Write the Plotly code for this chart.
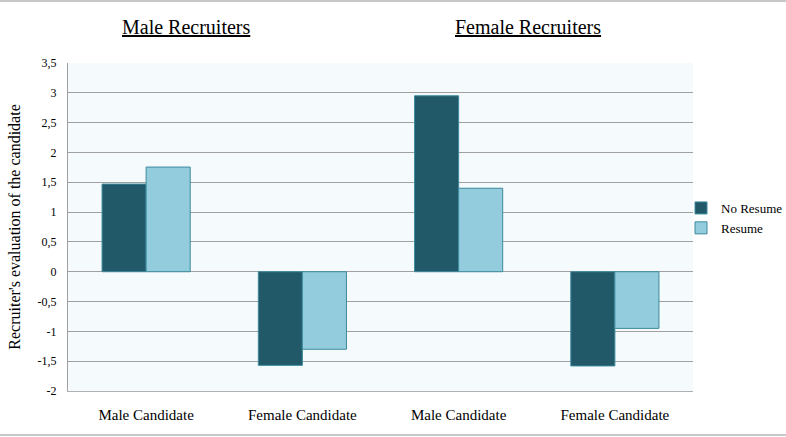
import plotly.graph_objects as go

categories = ["Male Candidate", "Female Candidate", "Male Candidate", "Female Candidate"]
no_resume = [1.47, -1.57, 2.95, -1.58]
resume = [1.755, -1.30, 1.40, -0.95]
group_titles = ["Male Recruiters", "Female Recruiters"]
ytick_vals = [-2, -1.5, -1, -0.5, 0, 0.5, 1, 1.5, 2, 2.5, 3, 3.5]
ytick_text = ["-2", "-1,5", "-1", "-0,5", "0", "0,5", "1", "1,5", "2", "2,5", "3", "3,5"]

W, H = 786, 437
L, R, T, B = 68, 93, 63, 46
pw, ph = W - L - R, H - T - B

FONT = "Liberation Serif"
xs = list(range(len(categories)))

fig = go.Figure()
fig.add_trace(go.Bar(
    x=xs, y=no_resume, name="No Resume",
    marker=dict(color="#215968", line=dict(color="#3C8A9E", width=1)),
))
fig.add_trace(go.Bar(
    x=xs, y=resume, name="Resume",
    marker=dict(color="#93CDDD", line=dict(color="#3C8A9E", width=1)),
))

annotations = []
for title, cx in zip(group_titles, [186, 528]):
    annotations.append(dict(
        text='<span style="text-decoration:underline">' + title + '</span>',
        x=(cx - L) / pw, y=(H - B - 27) / ph, xref="paper", yref="paper",
        xanchor="center", yanchor="middle", showarrow=False,
        font=dict(family=FONT, size=20, color="#000000"),
    ))

shapes = []
for py in [1, 435]:
    yp = (H - B - py) / ph
    shapes.append(dict(type="line", xref="paper", yref="paper",
                       x0=-L / pw, x1=(W - L) / pw, y0=yp, y1=yp,
                       line=dict(color="#C8C8C8", width=2)))

fig.update_layout(
    width=W, height=H,
    margin=dict(l=L, r=R, t=T, b=B, pad=0, autoexpand=False),
    paper_bgcolor="#FFFFFF",
    plot_bgcolor="#F5FAFC",
    barmode="group",
    bargap=0.436, bargroupgap=0,
    separators=", ",
    font=dict(family=FONT, size=12, color="#000000"),
    xaxis=dict(
        tickvals=xs, ticktext=categories, range=[-0.5, 3.5],
        showgrid=False, zeroline=False, showline=True, linecolor="#B0B0B0",
        linewidth=1, ticks="", tickfont=dict(family=FONT, size=15),
        ticklabelstandoff=10, automargin=False,
    ),
    yaxis=dict(
        range=[-2, 3.5], tickvals=ytick_vals, ticktext=ytick_text,
        showgrid=True, gridcolor="#A0A0A0", gridwidth=1,
        zeroline=True, zerolinecolor="#A0A0A0", zerolinewidth=1,
        showline=True, linecolor="#A0A0A0", linewidth=1,
        ticks="", tickfont=dict(family=FONT, size=12),
        ticklabelstandoff=8, automargin=False,
        title=dict(text="Recruiter's evaluation of the candidate",
                   font=dict(family=FONT, size=16), standoff=12),
    ),
    legend=dict(
        x=(681 - L) / pw, y=(H - B - 193) / ph, xanchor="left", yanchor="top",
        font=dict(family=FONT, size=13), bgcolor="rgba(0,0,0,0)",
        itemwidth=30, tracegroupgap=4,
    ),
    annotations=annotations,
    shapes=shapes,
)

fig.write_html("out.html")
